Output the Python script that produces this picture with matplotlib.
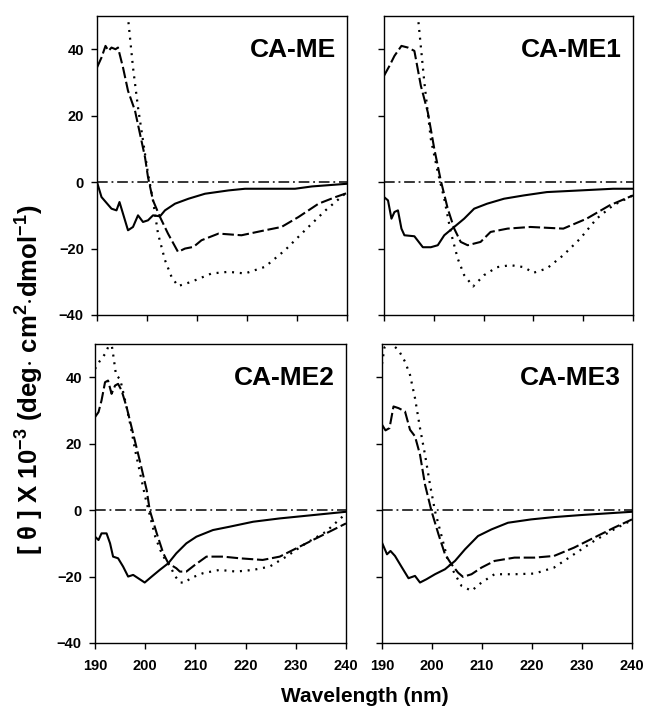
import matplotlib
matplotlib.use("Agg")
import matplotlib.pyplot as plt

plt.rcParams['font.family'] = ['Liberation Sans', 'DejaVu Sans']
plt.rcParams['font.weight'] = 'bold'
plt.rcParams['mathtext.fontset'] = 'custom'
plt.rcParams['mathtext.rm'] = 'Liberation Sans:bold'
plt.rcParams['mathtext.bf'] = 'Liberation Sans:bold'
plt.rcParams['mathtext.default'] = 'bf'

# ---- CA-ME ----
me_solid_x = [190, 190.9, 192.9, 193.9, 194.5, 195.2, 196.2, 197.2, 198.2, 199.2, 200.2, 201.2,
              202.6, 203.6, 205.6, 208.3, 211.6, 216.3, 219.6, 226.3, 229.6, 233, 240]
me_solid_y = [0, -4.5, -8, -8.5, -6, -9.5, -14.5, -13.5, -10, -12, -11.5, -10,
              -10.3, -8.5, -6.5, -5, -3.5, -2.5, -2, -2, -2, -1.3, -0.5]
me_dash_x = [190, 190.9, 191.7, 192.3, 192.9, 193.7, 194.2, 195.2, 196.2, 197.6, 198.6, 199.6,
             200.2, 201.2, 202.6, 204.2, 206.2, 207.6, 209.3, 210.9, 214.3, 218.9, 223.6,
             226.9, 230.3, 234.3, 237.7, 240]
me_dash_y = [34.5, 37.5, 41, 39.5, 40.5, 40, 40.5, 34.5, 27.5, 21.5, 14.5, 7.5,
             1.5, -5.5, -10.5, -15.5, -21, -20, -19.5, -17.5, -15.5, -16, -14.5,
             -13.5, -10.5, -6.5, -4.5, -3.3]
me_dot_x = [195.7, 196.2, 197.2, 198.2, 199.2, 200.2, 201.2, 202.2, 203.6, 204.9, 206.2, 208.9,
            212.9, 216.3, 219.6, 223.6, 227.6, 231.6, 235.7, 240]
me_dot_y = [57, 49.5, 34.5, 22.5, 12.5, 2.5, -5.5, -15.5, -23.5, -28.5, -31.3, -30,
            -27.5, -27, -27.5, -25.5, -20.5, -14.5, -8.5, -3]

# ---- CA-ME1 ----
me1_solid_x = [190, 190.8, 191.5, 192.1, 192.8, 193.5, 194.1, 196.1, 197.8, 199.4, 200.8, 202.1,
               204.1, 206.1, 208.1, 210.7, 214.1, 218.1, 222.7, 229.4, 236, 240]
me1_solid_y = [-4.5, -5.5, -11, -9, -8.5, -14, -16, -16.3, -19.6, -19.6, -19, -16,
               -13.5, -11, -8, -6.5, -5, -4, -3, -2.5, -2, -2]
me1_dash_x = [190, 191.1, 192.1, 193.5, 194.8, 196.1, 197.4, 198.8, 200.1, 201.4, 202.8, 204.1,
              205.4, 206.8, 209.4, 211.4, 214.8, 219.4, 226, 230.7, 235.3, 240]
me1_dash_y = [32, 35, 38, 41, 40.5, 39.5, 29, 21, 10, 0.5, -8, -14,
              -18, -19, -18, -15, -14, -13.5, -14, -11, -7, -4]
me1_dot_x = [196.3, 196.8, 198.1, 199.4, 200.8, 202.1, 203.4, 204.8, 206.1, 207.9, 210.1, 212.7,
             215.4, 218.1, 220, 222.7, 226, 229.4, 232.7, 236, 240]
me1_dot_y = [57, 50, 30, 13, 3, -5, -15, -23, -28, -31.4, -28, -25.6,
             -25, -25.6, -27.3, -26, -22, -17, -11, -7, -4]

# ---- CA-ME2 ----
me2_solid_x = [190, 190.7, 191.3, 192.3, 193, 193.6, 194.6, 195.6, 196.6, 197.6, 198.6, 199.9,
               201.3, 202.9, 204.6, 206.2, 208.2, 210.2, 213.5, 216.8, 221.5, 226.8, 233.4, 240]
me2_solid_y = [-8, -9, -7, -7, -10, -14, -14.5, -17, -20, -19.5, -20.5, -21.8,
               -20, -18, -16, -13, -10, -8, -6, -5, -3.5, -2.5, -1.5, -0.5]
me2_dash_x = [190, 190.7, 191.3, 192, 192.6, 193.3, 194, 194.6, 195.3, 196.3, 197.6, 198.9,
              200.3, 200.9, 202.3, 203.6, 204.6, 206.2, 206.9, 208.2, 209.9, 212.2, 215.5,
              218.8, 223.4, 226.8, 230.1, 233.4, 236.7, 240]
me2_dash_y = [28, 29.5, 33, 38.5, 39, 35, 37.5, 38, 36, 31, 23, 15,
              6, 0, -7, -13, -16, -17.5, -18.5, -18.5, -16.5, -14, -14,
              -14.5, -15, -14, -11.5, -9, -6.5, -4]
me2_dot_x = [190, 191, 192, 192.6, 193.2, 193.7, 194.2, 195, 196, 197, 198, 199, 200, 201, 202,
             203, 204, 205, 206, 207, 208, 209, 211.5, 214.8, 218.1, 221.5, 224.8, 228.1,
             232, 236, 240]
me2_dot_y = [42.5, 45, 47, 49, 51, 46, 40.5, 39.5, 33, 26, 18, 11, 4, -2, -8,
             -12, -15, -17, -20, -21.8, -21.8, -20.5, -19, -18, -18.5, -18, -17, -14,
             -10, -6.5, -1]

# ---- CA-ME3 ----
me3_solid_x = [190, 191, 191.7, 192.6, 194, 195.3, 196.6, 197.6, 198.9, 200.6, 202.6, 204.6,
               206.6, 209.2, 211.9, 215.2, 219.8, 224.4, 229.7, 240]
me3_solid_y = [-9.8, -13.3, -12.3, -13.8, -17.3, -20.5, -19.8, -21.8, -20.8, -19.3, -17.8, -15.3,
               -11.8, -7.8, -5.8, -3.8, -2.8, -2.1, -1.5, -0.5]
me3_dash_x = [190, 190.7, 191.5, 192.3, 193.3, 194.6, 195.6, 196.6, 197.6, 198.6, 199.9, 201.3,
              202.6, 203.9, 205.2, 206.2, 207.9, 209.9, 212.5, 216.5, 220.5, 224.4, 228.4,
              232.4, 236.4, 240]
me3_dash_y = [25.7, 24, 24.7, 31.2, 30.7, 29.7, 24.2, 22.2, 16.7, 7.7, -0.3, -7.3,
              -13.3, -16.3, -18.8, -20.1, -19.3, -17.3, -15.3, -14.3, -14.3, -13.8, -11.3,
              -8.3, -5.3, -2.8]
me3_dot_x = [190, 190.5, 191.5, 193.3, 194.6, 195.6, 196.6, 197.6, 198.6, 199.6, 200.6, 202,
             203.2, 204.6, 205.9, 207.9, 209.9, 212.5, 216.5, 220.5, 224.4, 228.4, 232.4,
             236.4, 240]
me3_dot_y = [44, 49, 50.5, 48.2, 44.7, 40.7, 33.7, 24.7, 16.7, 7.7, -0.3, -8.3,
             -15.3, -19.3, -22.8, -24.3, -21.8, -19.3, -19.3, -19.1, -17.3, -13.3, -9.3,
             -5.8, -3]

panel_names = ["CA-ME", "CA-ME1", "CA-ME2", "CA-ME3"]
x_ticks = [190, 200, 210, 220, 230, 240]
y_ticks = [-40, -20, 0, 20, 40]

panels = [
    (me_solid_x, me_solid_y, me_dash_x, me_dash_y, me_dot_x, me_dot_y),
    (me1_solid_x, me1_solid_y, me1_dash_x, me1_dash_y, me1_dot_x, me1_dot_y),
    (me2_solid_x, me2_solid_y, me2_dash_x, me2_dash_y, me2_dot_x, me2_dot_y),
    (me3_solid_x, me3_solid_y, me3_dash_x, me3_dash_y, me3_dot_x, me3_dot_y),
]

W, H = 645, 713
fig = plt.figure(figsize=(W / 100, H / 100), dpi=100)

# pixel boxes: left, top, right, bottom
boxes = [(97, 16, 347, 315), (384, 16, 633, 315),
         (95, 344, 346, 643), (382, 344, 632, 643)]

for i, (name, data, box) in enumerate(zip(panel_names, panels, boxes)):
    l, t, r, b = box
    ax = fig.add_axes([l / W, 1 - b / H, (r - l) / W, (b - t) / H])
    sx, sy, dx, dy, px, py = data
    ax.axhline(0, color='black', lw=1.1, ls=(0, (7, 2.5, 1.2, 2.5)))
    ax.plot(sx, sy, color='black', lw=1.5, ls='-')
    ax.plot(dx, dy, color='black', lw=1.5, ls=(0, (5.5, 1.8)))
    ax.plot(px, py, color='black', lw=1.6, ls=(0, (0.9, 2.6)))
    ax.set_xlim(190, 240)
    ax.set_ylim(-40, 50)
    ax.set_xticks(x_ticks)
    ax.set_yticks(y_ticks)
    ax.tick_params(direction='out', length=4.5, width=1, labelsize=10.5)
    ax.tick_params(axis='x', pad=7)
    ax.tick_params(axis='y', pad=5)
    for sp in ax.spines.values():
        sp.set_linewidth(1.0)
    if i < 2:
        ax.set_xticklabels([])
    if i % 2 == 1:
        ax.set_yticklabels([])
    for lab in ax.get_xticklabels() + ax.get_yticklabels():
        lab.set_fontweight('bold')
    ax.text(0.955, 0.885, name, transform=ax.transAxes, ha='right', va='center',
            fontsize=19, fontweight='bold')

fig.text(30 / W, 1 - 380 / H, "[ θ ] X 10$^{-3}$ (deg$\\cdot$ cm$^{2}$$\\cdot$dmol$^{-1}$)",
         rotation=90, ha='center', va='center', fontsize=18.5, fontweight='bold')
fig.text(365 / W, 1 - 696 / H, "Wavelength (nm)", ha='center', va='center',
         fontsize=15, fontweight='bold')

fig.savefig("out.png", dpi=100)
